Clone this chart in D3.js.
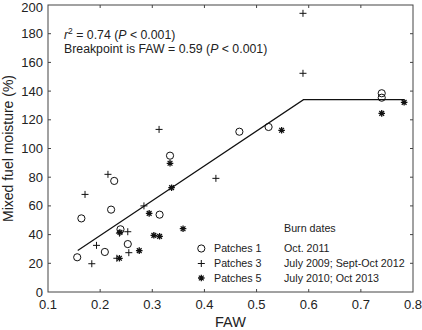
<!DOCTYPE html>
<html>
<head>
<meta charset="utf-8">
<script src="https://cdn.jsdelivr.net/npm/d3@7"></script>
<style>
  body { margin: 0; background: #fff; }
  svg { font-family: "Liberation Sans", Arial, sans-serif; }
</style>
</head>
<body>
<svg id="chart" width="422" height="330"></svg>
<script>
// Patches 1 (circles)
const p1Faw = [0.156, 0.164, 0.209, 0.221, 0.227, 0.239, 0.253, 0.314, 0.334, 0.467, 0.523, 0.74, 0.74];
const p1Moist = [24.2, 51.3, 27.9, 57.4, 77.4, 43.7, 33.4, 53.9, 95, 111.7, 115, 138.5, 135.4];
// Patches 3 (plus)
const p3Faw = [0.171, 0.184, 0.193, 0.215, 0.232, 0.237, 0.253, 0.255, 0.284, 0.313, 0.422, 0.589, 0.589];
const p3Moist = [68, 19.7, 32.5, 82, 23.5, 41, 42, 27.4, 60, 113.3, 79.2, 194.2, 152.4];
// Patches 5 (asterisk)
const p5Faw = [0.237, 0.238, 0.275, 0.294, 0.303, 0.314, 0.337, 0.334, 0.359, 0.548, 0.74, 0.783];
const p5Moist = [23.5, 41.5, 28.8, 54.8, 39.5, 38.8, 72.7, 89.7, 44.1, 112.7, 124.5, 132.2];
// breakpoint fit
const fitFaw = [0.157, 0.59, 0.783];
const fitMoist = [29, 134, 134];

const xTicks = [0.1, 0.2, 0.3, 0.4, 0.5, 0.6, 0.7, 0.8];
const yTicks = [0, 20, 40, 60, 80, 100, 120, 140, 160, 180, 200];

const legendNames = ["Patches 1", "Patches 3", "Patches 5"];
const legendDates = ["Oct. 2011", "July 2009; Sept-Oct 2012", "July 2010; Oct 2013"];

const margin = {top: 5, right: 9, bottom: 38, left: 48};
const width = 422 - margin.left - margin.right;
const height = 330 - margin.top - margin.bottom;

const svg = d3.select("#chart");
const g = svg.append("g").attr("transform", `translate(${margin.left},${margin.top})`);

const x = d3.scaleLinear().domain([0.1, 0.8]).range([0, width]);
const y = d3.scaleLinear().domain([0, 200]).range([height, 0]);

const frameColor = "#444";
const textColor = "#222";

// frame
g.append("rect")
    .attr("width", width).attr("height", height)
    .attr("fill", "none").attr("stroke", frameColor).attr("stroke-width", 1);

// inward ticks
const tk = 3;
g.selectAll(".xtb").data(xTicks.slice(1, -1)).enter().append("line")
    .attr("x1", d => x(d)).attr("x2", d => x(d))
    .attr("y1", height).attr("y2", height - tk).attr("stroke", frameColor);
g.selectAll(".xtt").data(xTicks.slice(1, -1)).enter().append("line")
    .attr("x1", d => x(d)).attr("x2", d => x(d))
    .attr("y1", 0).attr("y2", tk).attr("stroke", frameColor);
g.selectAll(".ytl").data(yTicks.slice(1, -1)).enter().append("line")
    .attr("x1", 0).attr("x2", tk)
    .attr("y1", d => y(d)).attr("y2", d => y(d)).attr("stroke", frameColor);
g.selectAll(".ytr").data(yTicks.slice(1, -1)).enter().append("line")
    .attr("x1", width).attr("x2", width - tk)
    .attr("y1", d => y(d)).attr("y2", d => y(d)).attr("stroke", frameColor);

// tick labels
g.selectAll(".xl").data(xTicks).enter().append("text")
    .attr("x", d => x(d)).attr("y", height + 17)
    .attr("text-anchor", "middle").attr("font-size", 13).attr("fill", textColor)
    .text(d => d.toFixed(1));
g.selectAll(".yl").data(yTicks).enter().append("text")
    .attr("x", -5).attr("y", d => Math.max(y(d) + 4.5, 6.5))
    .attr("text-anchor", "end").attr("font-size", 13).attr("fill", textColor)
    .text(d => d);

// axis titles
g.append("text")
    .attr("x", width / 2).attr("y", height + 35)
    .attr("text-anchor", "middle").attr("font-size", 14.5).attr("fill", textColor)
    .text("FAW");
svg.append("text")
    .attr("transform", `translate(13,${margin.top + height / 2}) rotate(-90)`)
    .attr("text-anchor", "middle").attr("font-size", 14).attr("fill", textColor)
    .text("Mixed fuel moisture (%)");

// fit line
const line = d3.line().x(d => x(d[0])).y(d => y(d[1]));
g.append("path")
    .datum(d3.zip(fitFaw, fitMoist))
    .attr("d", line)
    .attr("fill", "none").attr("stroke", "#111").attr("stroke-width", 1.2);

// marker drawers
function drawCircle(sel, cx, cy) {
    sel.append("circle").attr("cx", cx).attr("cy", cy).attr("r", 3.6)
        .attr("fill", "none").attr("stroke", "#111").attr("stroke-width", 1);
}
function drawPlus(sel, cx, cy) {
    const s = 3.5;
    sel.append("path")
        .attr("d", `M${cx - s},${cy}H${cx + s}M${cx},${cy - s}V${cy + s}`)
        .attr("stroke", "#111").attr("stroke-width", 1).attr("fill", "none");
}
function drawStar(sel, cx, cy) {
    const s = 3.3, d = s * 0.72;
    sel.append("path")
        .attr("d", `M${cx - s},${cy}H${cx + s}M${cx},${cy - s}V${cy + s}` +
            `M${cx - d},${cy - d}L${cx + d},${cy + d}M${cx - d},${cy + d}L${cx + d},${cy - d}`)
        .attr("stroke", "#111").attr("stroke-width", 1.3).attr("fill", "none");
}

const pts = g.append("g");
d3.zip(p1Faw, p1Moist).forEach(d => drawCircle(pts, x(d[0]), y(d[1])));
d3.zip(p3Faw, p3Moist).forEach(d => drawPlus(pts, x(d[0]), y(d[1])));
d3.zip(p5Faw, p5Moist).forEach(d => drawStar(pts, x(d[0]), y(d[1])));

// annotation
const ann1 = g.append("text").attr("x", 16).attr("y", 34).attr("font-size", 12.3).attr("fill", textColor);
ann1.append("tspan").attr("font-style", "italic").text("r");
ann1.append("tspan").attr("font-size", 8.5).attr("dy", -5).text("2");
ann1.append("tspan").attr("dy", 5).text(" = 0.74 (");
ann1.append("tspan").attr("font-style", "italic").text("P");
ann1.append("tspan").text(" < 0.001)");

const ann2 = g.append("text").attr("x", 16).attr("y", 48).attr("font-size", 12.3).attr("fill", textColor);
ann2.append("tspan").text("Breakpoint is FAW = 0.59 (");
ann2.append("tspan").attr("font-style", "italic").text("P");
ann2.append("tspan").text(" < 0.001)");

// legend
const lg = svg.append("g").attr("font-size", 10.7).attr("fill", textColor);
lg.append("text").attr("x", 284).attr("y", 232).text("Burn dates");
const rowY = [248.5, 263.5, 278];
const drawers = [drawCircle, drawPlus, drawStar];
legendNames.forEach((name, i) => {
    drawers[i](lg, 201.3, rowY[i]);
    lg.append("text").attr("x", 214).attr("y", rowY[i] + 3.5).text(name);
    lg.append("text").attr("x", 284).attr("y", rowY[i] + 3.5).text(legendDates[i]);
});
</script>
</body>
</html>
